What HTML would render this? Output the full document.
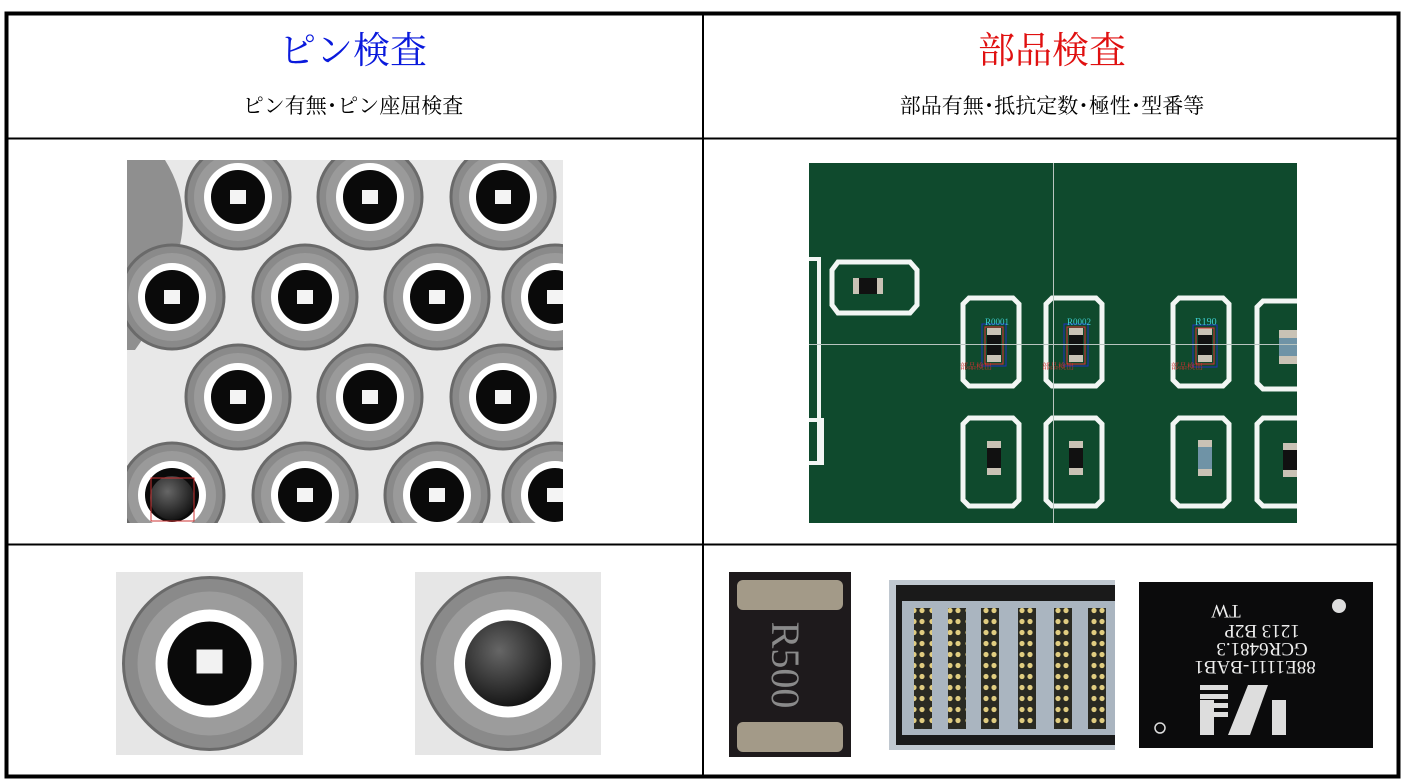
<!DOCTYPE html>
<html><head><meta charset="utf-8">
<style>
html,body{margin:0;padding:0;background:#fff;width:1405px;height:782px;overflow:hidden;}
svg{display:block}
text{font-family:"Liberation Serif","Noto Serif CJK SC","Noto Sans CJK JP",serif;}
</style></head><body>
<svg width="1405" height="782" viewBox="0 0 1405 782" xmlns="http://www.w3.org/2000/svg">
<defs>
 <radialGradient id="ball" cx="0.4" cy="0.35" r="0.7">
  <stop offset="0" stop-color="#666"/><stop offset="1" stop-color="#111"/>
 </radialGradient>
 <g id="pin">
  <circle r="52" fill="#8a8a8a" stroke="#6a6a6a" stroke-width="3"/>
  <circle r="44" fill="#9a9a9a"/>
  <circle r="34" fill="#fff"/>
  <circle r="27" fill="#0a0a0a"/>
  <rect x="-8" y="-7" width="16" height="14" fill="#f4f4f4"/>
 </g>
 <g id="padv">
  <path d="M-22,-44 H22 L28,-38 V38 L22,44 H-22 L-28,38 V-38 Z" fill="none" stroke="#f2f6f4" stroke-width="5"/>
 </g>
 <g id="chip">
  <rect x="-7" y="-17" width="14" height="34" fill="#c9c2b5"/>
  <rect x="-7" y="-10" width="14" height="20" fill="#111"/>
 </g>
 <pattern id="dots" width="18" height="11" patternUnits="userSpaceOnUse">
  <rect width="18" height="11" fill="#2a2a22"/>
  <circle cx="4" cy="5.5" r="2.6" fill="#e0cc80"/><circle cx="14" cy="5.5" r="2.6" fill="#e0cc80"/>
 </pattern>
</defs>

<text x="353" y="63" font-size="37" fill="#0a1adc" text-anchor="middle">ピン検査</text>
<text x="353" y="113" font-size="21" fill="#000" text-anchor="middle">ピン有無･ピン座屈検査</text>
<text x="1052" y="63" font-size="37" fill="#e01010" text-anchor="middle">部品検査</text>
<text x="1052" y="113" font-size="21" fill="#000" text-anchor="middle">部品有無･抵抗定数･極性･型番等</text>

<svg x="127" y="160" width="436" height="363" viewBox="127 160 436 363">
 <rect x="127" y="160" width="436" height="363" fill="#e8e8e8"/>
 <path d="M127,160 H165 Q190,200 180,245 Q175,295 135,350 H127 Z" fill="#8f8f8f"/>
 <use href="#pin" x="238" y="197"/><use href="#pin" x="370" y="197"/><use href="#pin" x="503" y="197"/>
 <use href="#pin" x="172" y="297"/><use href="#pin" x="305" y="297"/><use href="#pin" x="437" y="297"/><use href="#pin" x="555" y="297"/>
 <use href="#pin" x="238" y="397"/><use href="#pin" x="370" y="397"/><use href="#pin" x="503" y="397"/>
 <use href="#pin" x="172" y="495"/><use href="#pin" x="305" y="495"/><use href="#pin" x="437" y="495"/><use href="#pin" x="555" y="495"/>
 <circle cx="172" cy="498" r="22" fill="url(#ball)"/>
 <rect x="151" y="478" width="43" height="43" fill="none" stroke="#c33" stroke-width="1"/>
</svg>

<svg x="809" y="163" width="488" height="360" viewBox="809 163 488 360">
 <rect x="809" y="163" width="488" height="360" fill="#0f4a2d"/>
 <path d="M808,259 H819 V463" fill="none" stroke="#f2f6f4" stroke-width="4"/>
 <path d="M808,420 H822 V463 H808" fill="none" stroke="#f2f6f4" stroke-width="4"/>
 <path d="M838,262 H910 L917,270 V305 L910,313 H838 L832,305 V270 Z" fill="none" stroke="#f2f6f4" stroke-width="5"/>
 <rect x="853" y="278" width="30" height="16" fill="#c9c2b5"/><rect x="859" y="278" width="18" height="16" fill="#111"/>
 <use href="#padv" x="991" y="342"/><use href="#padv" x="1074" y="342"/><use href="#padv" x="1201" y="342"/><use href="#padv" x="1285" y="345"/>
 <use href="#padv" x="991" y="462"/><use href="#padv" x="1074" y="462"/><use href="#padv" x="1201" y="462"/><use href="#padv" x="1285" y="462"/>
 <use href="#chip" x="994" y="345"/><use href="#chip" x="1076" y="345"/><use href="#chip" x="1205" y="345"/>
 <use href="#chip" x="994" y="458"/><use href="#chip" x="1076" y="458"/>
 <rect x="1198" y="440" width="14" height="36" fill="#c9c2b5"/><rect x="1198" y="447" width="14" height="22" fill="#6f93a6"/>
 <rect x="1279" y="330" width="18" height="34" fill="#c9c2b5"/><rect x="1279" y="338" width="18" height="18" fill="#6f93a6"/>
 <use href="#chip" x="1290" y="460"/>
 <rect x="985" y="327" width="18" height="37" fill="none" stroke="#e03030" stroke-width="1"/>
 <rect x="982" y="324" width="24" height="42" fill="none" stroke="#2030c0" stroke-width="1"/>
 <rect x="1067" y="327" width="18" height="37" fill="none" stroke="#e03030" stroke-width="1"/>
 <rect x="1064" y="324" width="24" height="42" fill="none" stroke="#2030c0" stroke-width="1"/>
 <rect x="1196" y="328" width="18" height="36" fill="none" stroke="#e03030" stroke-width="1"/>
 <rect x="1193" y="325" width="24" height="42" fill="none" stroke="#2030c0" stroke-width="1"/>
 <text x="985" y="325" font-size="9" fill="#3ccfd0" font-family="Liberation Sans,sans-serif">R0001</text>
 <text x="1067" y="325" font-size="9" fill="#3ccfd0" font-family="Liberation Sans,sans-serif">R0002</text>
 <text x="1195" y="325" font-size="10" fill="#3ccfd0" font-family="Liberation Sans,sans-serif">R190</text>
 <text x="960" y="369" font-size="8" fill="#d03030" font-family="Liberation Sans,sans-serif">部品検出</text>
 <text x="1042" y="369" font-size="8" fill="#d03030" font-family="Liberation Sans,sans-serif">部品検出</text>
 <text x="1171" y="369" font-size="8" fill="#d03030" font-family="Liberation Sans,sans-serif">部品検出</text>
 <line x1="809" y1="344.5" x2="1297" y2="344.5" stroke="#b8c4bf" stroke-width="1"/>
 <line x1="1053.5" y1="163" x2="1053.5" y2="523" stroke="#b8c4bf" stroke-width="1"/>
</svg>

<svg x="116" y="572" width="187" height="183" viewBox="-93.5 -91.5 187 183">
 <rect x="-93.5" y="-91.5" width="187" height="183" fill="#e6e6e6"/>
 <circle r="86" fill="#8a8a8a" stroke="#6a6a6a" stroke-width="3"/>
 <circle r="72" fill="#9c9c9c"/>
 <circle r="54" fill="#fff"/>
 <circle r="42" fill="#0a0a0a"/>
 <rect x="-13" y="-14" width="26" height="24" fill="#f2f2f2"/>
</svg>
<svg x="415" y="572" width="186" height="183" viewBox="-93 -91.5 186 183">
 <rect x="-93" y="-91.5" width="186" height="183" fill="#e6e6e6"/>
 <circle r="86" fill="#8a8a8a" stroke="#6a6a6a" stroke-width="3"/>
 <circle r="72" fill="#9c9c9c"/>
 <circle r="54" fill="#fff"/>
 <circle r="43" fill="url(#ball)"/>
</svg>

<rect x="729" y="572" width="122" height="185" fill="#1e1a1c"/>
<rect x="737" y="580" width="106" height="30" rx="6" fill="#a39a88"/>
<rect x="737" y="722" width="106" height="30" rx="6" fill="#a39a88"/>
<text transform="translate(772,665) rotate(90)" font-size="40" fill="#8a8a8a" text-anchor="middle" font-family="Liberation Sans,sans-serif">R500</text>

<rect x="889" y="580" width="226" height="170" fill="#c0c8d0"/>
<rect x="896" y="585" width="219" height="16" fill="#1a1a1a"/>
<rect x="896" y="735" width="219" height="10" fill="#1a1a1a"/>
<rect x="896" y="585" width="6" height="160" fill="#1a1a1a"/>
<rect x="902" y="601" width="213" height="134" fill="#aab5c0"/>
<rect x="914" y="608" width="18" height="121" fill="url(#dots)"/>
<rect x="948" y="608" width="18" height="121" fill="url(#dots)"/>
<rect x="981" y="608" width="18" height="121" fill="url(#dots)"/>
<rect x="1018" y="608" width="18" height="121" fill="url(#dots)"/>
<rect x="1054" y="608" width="18" height="121" fill="url(#dots)"/>
<rect x="1088" y="608" width="18" height="121" fill="url(#dots)"/>

<rect x="1139" y="582" width="234" height="166" fill="#0b0b0c"/>
<circle cx="1339" cy="606" r="7" fill="#ddd"/>
<g fill="#eee" font-family="Liberation Sans,sans-serif" font-size="19" text-anchor="middle">
 <text transform="rotate(180,1226,612)" x="1226" y="619">TW</text>
 <text transform="rotate(180,1262,632)" x="1262" y="639">1213 B2P</text>
 <text transform="rotate(180,1262,650)" x="1262" y="657">GCR6481.3</text>
 <text transform="rotate(180,1255,668)" x="1255" y="675">88E1111-BAB1</text>
</g>
<g fill="#ddd"><rect x="1200" y="685" width="28" height="5"/><rect x="1200" y="694" width="28" height="5"/><rect x="1200" y="703" width="28" height="5"/><rect x="1200" y="712" width="28" height="5"/>
<path d="M1228,735 L1248,685 H1268 L1250,735 Z"/><rect x="1272" y="700" width="14" height="35"/><rect x="1200" y="700" width="14" height="35"/></g>
<circle cx="1160" cy="728" r="5" fill="none" stroke="#ddd" stroke-width="1.5"/>

<rect x="6.5" y="13.5" width="1392" height="763" fill="none" stroke="#000" stroke-width="4"/>
<line x1="703" y1="13" x2="703" y2="777" stroke="#000" stroke-width="2"/>
<line x1="6" y1="138.5" x2="1399" y2="138.5" stroke="#000" stroke-width="2"/>
<line x1="6" y1="544.5" x2="1399" y2="544.5" stroke="#000" stroke-width="2"/>
</svg>
</body></html>
